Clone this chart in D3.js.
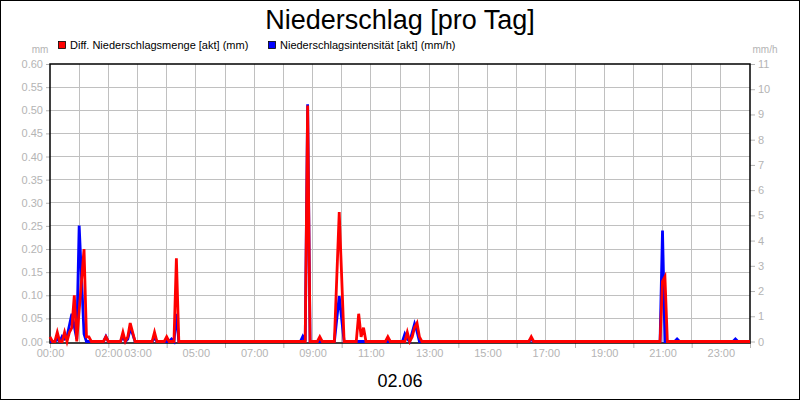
<!doctype html>
<html>
<head>
<meta charset="utf-8">
<title>Niederschlag [pro Tag]</title>
<script src="https://d3js.org/d3.v7.min.js"></script>
<style>
  body { margin: 0; background: #fff; }
  svg { font-family: "Liberation Sans", Arial, sans-serif; display: block; }
  .tick text { fill: #b4b4b4; font-size: 11px; }
  .tick line { stroke: #b4b4b4; }
</style>
</head>
<body>
<div id="chart"></div>
<script>
// Diff. Niederschlagsmenge [akt] (mm) - [zeit, wert]
var mengeSeries = [
  ["00:00", 0.01], ["00:05", 0], ["00:10", 0], ["00:15", 0.02], ["00:20", 0], ["00:25", 0],
  ["00:30", 0.02], ["00:35", 0], ["00:40", 0.02], ["00:45", 0.03], ["00:50", 0.10], ["00:55", 0],
  ["01:10", 0.20], ["01:15", 0.01], ["01:20", 0.01], ["01:25", 0],
  ["01:50", 0], ["01:55", 0.01], ["02:00", 0],
  ["02:25", 0], ["02:30", 0.02], ["02:35", 0], ["02:40", 0.01], ["02:45", 0.04], ["02:50", 0.02], ["02:55", 0],
  ["03:30", 0], ["03:35", 0.02], ["03:40", 0],
  ["03:55", 0], ["04:00", 0.01], ["04:05", 0],
  ["04:15", 0], ["04:20", 0.18], ["04:25", 0],
  ["08:45", 0], ["08:50", 0.51], ["08:55", 0],
  ["09:10", 0], ["09:15", 0.01], ["09:20", 0],
  ["09:45", 0], ["09:55", 0.28], ["10:05", 0],
  ["10:30", 0], ["10:35", 0.06], ["10:40", 0.01], ["10:45", 0.03], ["10:50", 0],
  ["11:30", 0], ["11:35", 0.01], ["11:40", 0],
  ["12:10", 0], ["12:15", 0.02], ["12:20", 0], ["12:25", 0.01], ["12:30", 0.03], ["12:35", 0.04], ["12:40", 0.01], ["12:45", 0],
  ["16:25", 0], ["16:30", 0.01], ["16:35", 0],
  ["20:55", 0], ["21:00", 0.13], ["21:05", 0.14], ["21:10", 0],
  ["24:00", 0]
];

// Niederschlagsintensität [akt] (mm/h) - [zeit, wert]
var intensSeries = [
  ["00:00", 0], ["00:10", 0], ["00:15", 0.1], ["00:20", 0], ["00:25", 0.2], ["00:30", 0.1],
  ["00:35", 0.2], ["00:45", 1.1], ["00:50", 0.6], ["00:55", 0.1], ["01:00", 4.6], ["01:10", 0.3], ["01:15", 0],
  ["01:50", 0], ["01:55", 0.2], ["02:00", 0],
  ["02:25", 0], ["02:30", 0.2], ["02:35", 0], ["02:40", 0.1], ["02:45", 0.5], ["02:50", 0.3], ["02:55", 0],
  ["03:30", 0], ["03:35", 0.15], ["03:40", 0],
  ["04:05", 0], ["04:10", 0.1], ["04:15", 0], ["04:20", 1.1], ["04:25", 0],
  ["08:35", 0], ["08:40", 0.2], ["08:45", 0], ["08:50", 9.4], ["08:55", 0],
  ["09:45", 0], ["09:55", 1.8], ["10:05", 0],
  ["12:05", 0], ["12:10", 0.3], ["12:15", 0.1], ["12:20", 0], ["12:30", 0.7], ["12:35", 0.4], ["12:40", 0],
  ["16:25", 0], ["16:30", 0.1], ["16:35", 0],
  ["20:55", 0], ["21:00", 4.4], ["21:05", 0],
  ["21:25", 0], ["21:30", 0.1], ["21:35", 0],
  ["23:25", 0], ["23:30", 0.1], ["23:35", 0],
  ["24:00", 0]
];

// axis labels
var xTickLabels = ["00:00", "02:00", "03:00", "05:00", "07:00", "09:00", "11:00",
                   "13:00", "15:00", "17:00", "19:00", "21:00", "23:00"];
var leftTicks = [0, 0.05, 0.10, 0.15, 0.20, 0.25, 0.30, 0.35, 0.40, 0.45, 0.50, 0.55, 0.60];
var rightTicks = [0, 1, 2, 3, 4, 5, 6, 7, 8, 9, 10, 11];

var legendItems = [
  {name: "Diff. Niederschlagsmenge [akt] (mm)", color: "#ff0000"},
  {name: "Niederschlagsintensität [akt] (mm/h)", color: "#0000ff"}
];

// "HH:MM" -> minutes
function toMin(s) {
  var p = s.split(":");
  return (+p[0]) * 60 + (+p[1]);
}

var W = 800, H = 400;
var plot = {left: 50, right: 750, top: 64, bottom: 341.5};

var svg = d3.select("#chart")
  .append("svg")
    .attr("width", W)
    .attr("height", H);

// outer frame
svg.append("rect")
  .attr("x", 0.5).attr("y", 0.5)
  .attr("width", W - 1).attr("height", H - 1)
  .attr("fill", "#fff")
  .attr("stroke", "#000");

var x = d3.scaleLinear().domain([0, 1440]).range([plot.left, plot.right]);
var yL = d3.scaleLinear().domain([0, 0.6]).range([plot.bottom, plot.top]);
var yR = d3.scaleLinear().domain([0, 11]).range([plot.bottom, plot.top]);

// grid
var grid = svg.append("g")
  .attr("stroke", "#c0c0c0")
  .attr("stroke-width", 1)
  .attr("shape-rendering", "crispEdges");

grid.selectAll("line.v")
  .data(d3.range(60, 1440, 60))
  .enter().append("line")
    .attr("x1", function(d) { return x(d); })
    .attr("x2", function(d) { return x(d); })
    .attr("y1", plot.top)
    .attr("y2", plot.bottom);

grid.selectAll("line.h")
  .data(leftTicks.slice(1, -1))
  .enter().append("line")
    .attr("x1", plot.left)
    .attr("x2", plot.right)
    .attr("y1", function(d) { return yL(d); })
    .attr("y2", function(d) { return yL(d); });

// left axis
var leftAxis = svg.append("g")
  .attr("transform", "translate(" + plot.left + ",0)")
  .call(d3.axisLeft(yL).tickValues(leftTicks).tickFormat(d3.format(".2f")).tickSize(4).tickPadding(3));
leftAxis.select(".domain").remove();

// right axis
var rightAxis = svg.append("g")
  .attr("transform", "translate(" + plot.right + ",0)")
  .call(d3.axisRight(yR).tickValues(rightTicks).tickFormat(d3.format("d")).tickSize(5).tickPadding(3));
rightAxis.select(".domain").remove();

// x axis: labels and tick marks
var xAxis = svg.append("g")
  .attr("transform", "translate(0," + (plot.bottom + 1.5) + ")")
  .call(d3.axisBottom(x).tickValues(xTickLabels.map(toMin))
    .tickFormat(function(d, i) { return xTickLabels[i]; })
    .tickSize(0).tickPadding(6));
xAxis.select(".domain").remove();

var xMarks = svg.append("g")
  .attr("transform", "translate(0," + (plot.bottom + 1.5) + ")")
  .call(d3.axisBottom(x).tickValues(d3.range(0, 1441, 120)).tickFormat("").tickSize(5));
xMarks.select(".domain").remove();

// plot frame
svg.append("rect")
  .attr("x", plot.left).attr("y", plot.top)
  .attr("width", plot.right - plot.left)
  .attr("height", plot.bottom + 1.5 - plot.top)
  .attr("fill", "none")
  .attr("stroke", "#000")
  .attr("stroke-width", 1.5);

// lines
var lineR = d3.line()
  .x(function(d) { return x(toMin(d[0])); })
  .y(function(d) { return yR(d[1]); });
var lineL = d3.line()
  .x(function(d) { return x(toMin(d[0])); })
  .y(function(d) { return yL(d[1]); });

svg.append("path")
  .datum(intensSeries)
  .attr("d", lineR)
  .attr("fill", "none")
  .attr("stroke", "#0000ff")
  .attr("stroke-width", 2.8);

svg.append("path")
  .datum(mengeSeries)
  .attr("d", lineL)
  .attr("fill", "none")
  .attr("stroke", "#ff0000")
  .attr("stroke-width", 2.8);

// title
svg.append("text")
  .attr("x", W / 2).attr("y", 29)
  .attr("text-anchor", "middle")
  .style("font-size", "27px")
  .text("Niederschlag [pro Tag]");

// date label
svg.append("text")
  .attr("x", W / 2).attr("y", 387)
  .attr("text-anchor", "middle")
  .style("font-size", "18px")
  .text("02.06");

// unit labels
svg.append("text")
  .attr("x", 40).attr("y", 53)
  .attr("text-anchor", "middle")
  .attr("fill", "#b4b4b4")
  .style("font-size", "10px")
  .text("mm");
svg.append("text")
  .attr("x", 765).attr("y", 53)
  .attr("text-anchor", "middle")
  .attr("fill", "#b4b4b4")
  .style("font-size", "10px")
  .text("mm/h");

// legend
var legendX = [58, 268];
var legend = svg.selectAll("g.legend")
  .data(legendItems)
  .enter().append("g")
    .attr("transform", function(d, i) { return "translate(" + legendX[i] + ",41)"; });
legend.append("rect")
  .attr("x", 0.5).attr("y", 0.5)
  .attr("width", 7).attr("height", 7)
  .attr("fill", function(d) { return d.color; })
  .attr("stroke", "#000")
  .attr("stroke-width", 0.8);
legend.append("text")
  .attr("x", 12).attr("y", 7.5)
  .style("font-size", "11px")
  .text(function(d) { return d.name; });
</script>
</body>
</html>
